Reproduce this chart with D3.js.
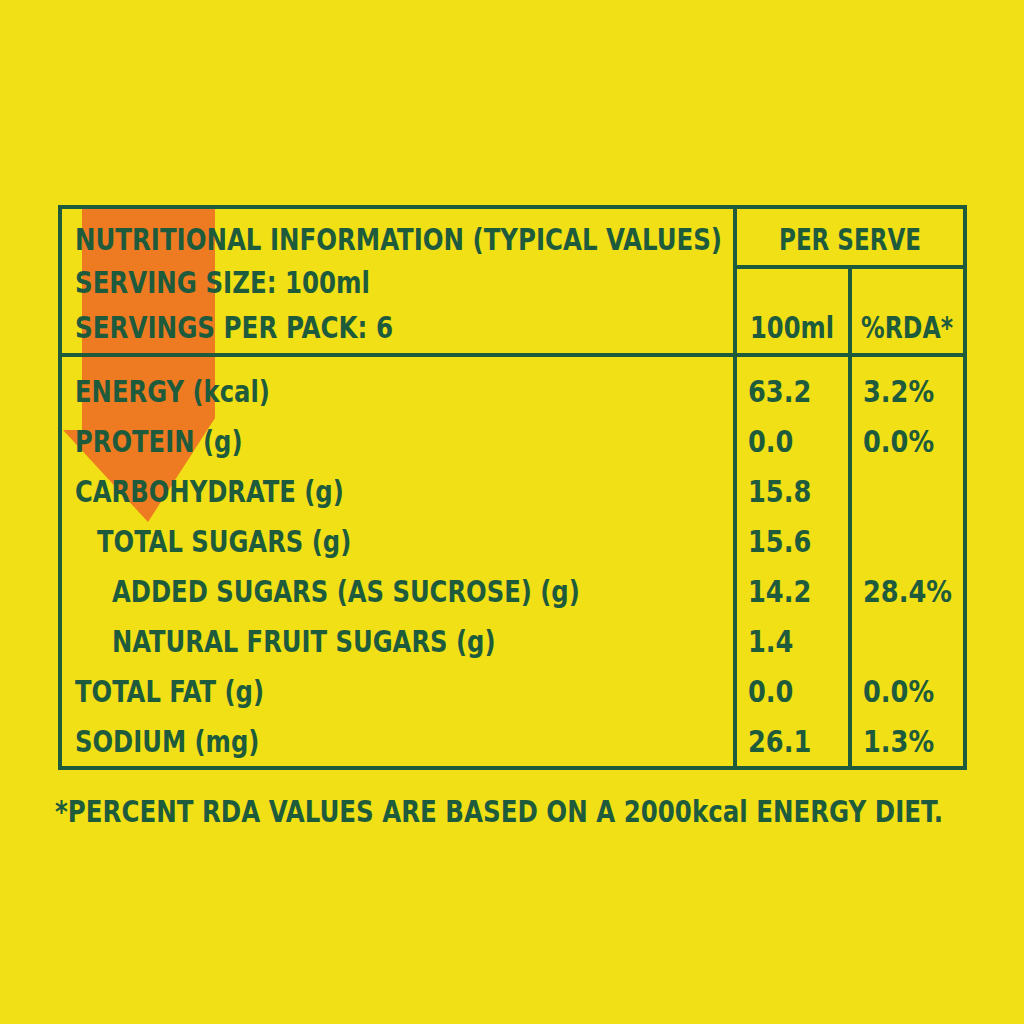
<!DOCTYPE html>
<html><head><meta charset="utf-8">
<script src="https://cdn.jsdelivr.net/npm/d3@7"></script>
<style>body{margin:0;background:#f0e015}</style></head>
<body><svg id="c" width="1024" height="1024"></svg>
<script>
const nutrients = ["ENERGY (kcal)","PROTEIN (g)","CARBOHYDRATE (g)","TOTAL SUGARS (g)","ADDED SUGARS (AS SUCROSE) (g)","NATURAL FRUIT SUGARS (g)","TOTAL FAT (g)","SODIUM (mg)"];
const indentLevel = [0,0,0,1,2,2,0,0];
const per100ml = ["63.2","0.0","15.8","15.6","14.2","1.4","0.0","26.1"];
const rda = ["3.2%","0.0%","","","28.4%","","0.0%","1.3%"];
const headerLines = ["NUTRITIONAL INFORMATION (TYPICAL VALUES)","SERVING SIZE: 100ml","SERVINGS PER PACK: 6"];

const svg = d3.select("#c");
const G = "#1e5b3c", F = "'DejaVu Sans Condensed','Liberation Sans Narrow',sans-serif";
svg.append("rect").attr("width",1024).attr("height",1024).attr("fill","#f0e015");
svg.append("path").attr("fill","#ee7a22")
  .attr("d","M82,209 L215,209 L215,418 L148,522 L63,430 L82,430 Z");
const y = d3.scaleBand().domain(d3.range(nutrients.length)).range([365,765]);
const t = (x,yy,s,anchor,len)=>{const e=svg.append("text").attr("x",x).attr("y",yy).text(s)
  .attr("fill",G).attr("font-family",F).attr("font-weight","bold").attr("font-size",31)
  .attr("text-anchor",anchor||"start");
  if(len) e.attr("textLength",len).attr("lengthAdjust","spacingAndGlyphs"); return e;};
const ts = (x,yy,s,k)=>svg.append("text").attr("transform",`translate(${x},${yy}) scale(${k},1)`).text(s)
  .attr("fill",G).attr("font-family",F).attr("font-weight","bold").attr("font-size",31);
const hb=[250,293,338], hl=[647,295,318];
headerLines.forEach((s,i)=>t(75,hb[i],s,"start",hl[i]));
t(850,250,"PER SERVE","middle",142);
t(792,338,"100ml","middle",84);
t(907,338,"%RDA*","middle",92);
nutrients.forEach((n,i)=>{
  const yy=y(i)+y.bandwidth()/2+12;
  ts(75+[0,22,37][indentLevel[i]],yy,n,0.87);
  ts(748,yy,per100ml[i],0.92);
  ts(863,yy,rda[i],0.92);
});
t(55,822,"*PERCENT RDA VALUES ARE BASED ON A 2000kcal ENERGY DIET.","start",888);
const L=(x1,y1,x2,y2)=>svg.append("line").attr("x1",x1).attr("y1",y1).attr("x2",x2).attr("y2",y2).attr("stroke",G).attr("stroke-width",4);
svg.append("rect").attr("x",60).attr("y",207).attr("width",905).attr("height",561).attr("fill","none").attr("stroke",G).attr("stroke-width",4);
L(735,207,735,768); L(850,267,850,768); L(735,267,965,267); L(60,355,965,355);
</script></body></html>
